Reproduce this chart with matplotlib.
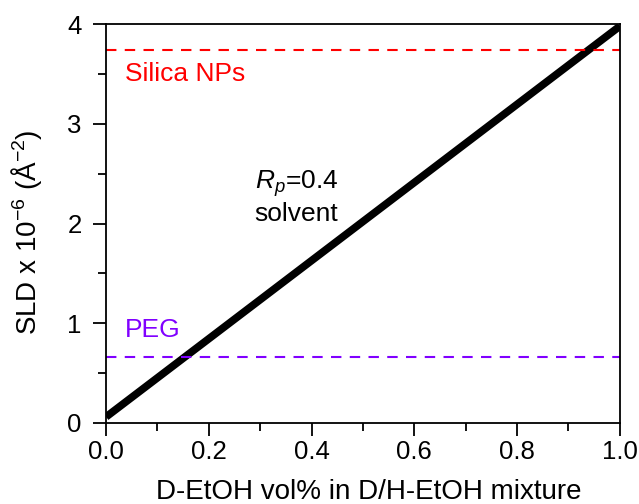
import matplotlib
matplotlib.use("Agg")
import matplotlib.pyplot as plt
from matplotlib.ticker import MultipleLocator

plt.rcParams["font.family"] = ["Liberation Sans", "DejaVu Sans"]
plt.rcParams["mathtext.fontset"] = "custom"
plt.rcParams["mathtext.rm"] = "Liberation Sans"
plt.rcParams["mathtext.it"] = "Liberation Sans:italic"

# 数据
d_frac = [0.0, 1.0]
sld_solvent = [0.06, 3.98]
sld_silica = 3.74
sld_peg = 0.66

fig = plt.figure(figsize=(6.39, 5.04), dpi=100)
ax = fig.add_axes([0.166, 0.161, 0.804, 0.791])

ax.plot(d_frac, sld_solvent, color="black", linewidth=5.5, solid_capstyle="butt")
ax.axhline(sld_silica, color="#ff0000", linewidth=1.5, dashes=(5, 4))
ax.axhline(sld_peg, color="#8000ff", linewidth=1.5, dashes=(5, 4))

ax.text(0.037, 3.5, "Silica NPs", color="#ff0000", fontsize=19, va="center", ha="left")
ax.text(0.037, 0.93, "PEG", color="#8000ff", fontsize=19, va="center", ha="left")
ax.text(0.37, 2.4, "$R_p$=0.4", fontsize=19, va="center", ha="center")
ax.text(0.37, 2.1, "solvent", fontsize=19, va="center", ha="center")

ax.set_xlim(0, 1)
ax.set_ylim(0, 4)
ax.xaxis.set_major_locator(MultipleLocator(0.2))
ax.xaxis.set_minor_locator(MultipleLocator(0.1))
ax.yaxis.set_major_locator(MultipleLocator(1))
ax.yaxis.set_minor_locator(MultipleLocator(0.5))
ax.xaxis.set_major_formatter(plt.FuncFormatter(lambda v, p: f"{v:.1f}"))
ax.tick_params(which="major", direction="out", length=9.5, width=1.3, labelsize=18.5,
               top=False, right=False)
ax.tick_params(which="minor", direction="out", length=6, width=1.3, top=False, right=False)
ax.tick_params(axis="x", which="major", pad=3)
ax.tick_params(axis="y", which="major", pad=8)
for s in ax.spines.values():
    s.set_linewidth(1.3)

ax.set_xlabel("D-EtOH vol% in D/H-EtOH mixture", fontsize=20)
ax.xaxis.set_label_coords(0.512, -0.14)
ax.set_ylabel("SLD x 10$^{-6}$ (Å$^{-2}$)", fontsize=20)
ax.yaxis.set_label_coords(-0.12, 0.478)

plt.savefig("out.png", dpi=100)
plt.close()
